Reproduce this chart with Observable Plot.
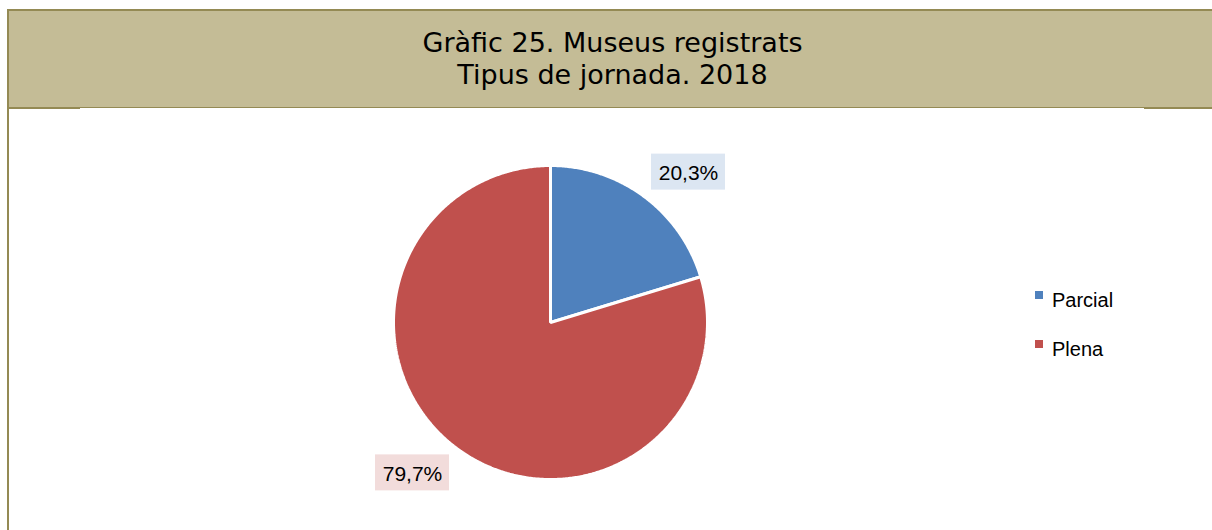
<!DOCTYPE html>
<html><head><meta charset="utf-8">
<script src="https://cdn.jsdelivr.net/npm/d3@7"></script>
<script src="https://cdn.jsdelivr.net/npm/@observablehq/plot@0.6"></script>
<style>
html,body{margin:0;padding:0;background:#fff}
body{width:1212px;height:530px;overflow:hidden;position:relative}
#frameLeft{position:absolute;left:7px;top:9px;width:2px;height:521px;background:#948a54}
#banner{position:absolute;left:7px;top:9px;width:1211px;height:99px;background:#c4bc96;border-top:2px solid #948a54;border-bottom:1px solid #948a54;box-sizing:border-box}
#bl{position:absolute;left:7px;top:107px;width:73px;height:2px;background:#948a54}
#br{position:absolute;left:1144px;top:107px;width:68px;height:2px;background:#948a54}
#title{position:absolute;left:7px;top:27px;width:1211px;text-align:center;font-family:"DejaVu Sans",Verdana,sans-serif;font-size:27px;line-height:32px;color:#000}
#chart{position:absolute;left:0;top:108px}
.leg{position:absolute;left:1035px;font-family:"Liberation Sans",Arial,sans-serif;font-size:20px;line-height:20px;color:#000;white-space:nowrap}
.leg .sw{position:absolute;left:0;width:8px;height:8px}
.leg .lb{position:absolute;left:17px;top:0}
</style>
</head><body>
<div id="banner"></div>
<div id="frameLeft"></div>
<div id="bl"></div><div id="br"></div>
<div id="title"></div>
<div id="chart"></div>
<div id="legend"></div>
<script>
// ---- data ----
const titleLines = ["Gràfic 25. Museus registrats", "Tipus de jornada. 2018"];
const categories = ["Parcial", "Plena"];
const values = [20.3, 79.7];
const valueLabels = ["20,3%", "79,7%"];
const colors = ["#4f81bd", "#c0504d"];
const labelFills = ["#dce6f2", "#f2dcdb"];

// ---- layout ----
const W = 1212, H = 422, R = 157, cx = 550, cy = 214;
document.getElementById("title").innerHTML = titleLines.join("<br>");

const arcs = d3.pie().sort(null).value(d => d)(values);
const poly = [];
arcs.forEach((a, i) => {
  const cat = categories[i];
  poly.push({cat, x: 0, y: 0});
  const n = Math.max(8, Math.ceil((a.endAngle - a.startAngle) / (Math.PI / 360)));
  for (let k = 0; k <= n; k++) {
    const t = a.startAngle + (a.endAngle - a.startAngle) * k / n;
    poly.push({cat, x: Math.sin(t), y: Math.cos(t)});
  }
});
const labelR = 1.3, labelShift = 6 * Math.PI / 180;
const lab = arcs.map((a, i) => {
  const m = (a.startAngle + a.endAngle) / 2 + labelShift;
  return {cat: categories[i], text: valueLabels[i], bg: labelFills[i],
          x: labelR * Math.sin(m), y: labelR * Math.cos(m)};
});
const hw = 37 / R, hh = 18 / R;

const chart = Plot.plot({
  width: W, height: H, margin: 0,
  x: {domain: [-cx / R, (W - cx) / R], range: [0, W], axis: null},
  y: {domain: [-(H - cy) / R, cy / R], range: [H, 0], axis: null},
  color: {domain: categories, range: colors},
  style: {background: "transparent"},
  marks: [
    Plot.line(poly, {x: "x", y: "y", z: "cat", fill: "cat", stroke: "white", strokeWidth: 3, curve: "linear-closed", strokeLinejoin: "miter"}),
    Plot.rect(lab, {x1: d => d.x - hw, x2: d => d.x + hw, y1: d => d.y - hh, y2: d => d.y + hh, fill: d => d.bg}),
    Plot.text(lab, {x: "x", y: "y", text: "text", fontSize: 21, fontFamily: "Liberation Sans, Arial, sans-serif", fill: "#000", textAnchor: "middle", lineAnchor: "middle", dy: 1})
  ]
});
document.getElementById("chart").append(chart);

// legend from the color scale
const cs = chart.scale("color");
const legend = document.getElementById("legend");
const legTops = [290, 339];
cs.domain.forEach((c, i) => {
  const d = document.createElement("div");
  d.className = "leg";
  d.style.top = legTops[i] + "px";
  d.innerHTML = `<div class="sw" style="top:1px;background:${cs.range[i]}"></div><div class="lb">${c}</div>`;
  legend.append(d);
});
</script>
</body></html>
